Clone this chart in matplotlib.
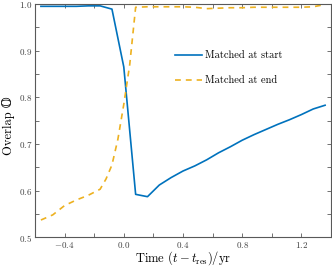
import matplotlib
matplotlib.use('Agg')
import matplotlib.pyplot as plt
import numpy as np
from matplotlib.ticker import MultipleLocator

plt.rcParams['font.family'] = 'serif'
plt.rcParams['font.serif'] = ['cmr10']
plt.rcParams['mathtext.fontset'] = 'cm'
plt.rcParams['axes.formatter.use_mathtext'] = True

# matched at start
t_start = [-0.56, -0.48, -0.40, -0.32, -0.24, -0.16, -0.08, 0.00, 0.08, 0.16,
           0.24, 0.32, 0.40, 0.48, 0.56, 0.64, 0.72, 0.80, 0.88, 0.96,
           1.04, 1.12, 1.20, 1.28, 1.36]
o_start = [0.995, 0.995, 0.995, 0.995, 0.996, 0.996, 0.989, 0.865, 0.592, 0.587,
           0.612, 0.628, 0.642, 0.653, 0.666, 0.681, 0.694, 0.708, 0.720, 0.731,
           0.742, 0.752, 0.763, 0.775, 0.783]

# matched at end
t_end = [-0.56, -0.48, -0.40, -0.32, -0.24, -0.16, -0.12, -0.08, -0.04, 0.00,
         0.04, 0.08, 0.16, 0.24, 0.32, 0.40, 0.48, 0.56, 0.64, 0.72,
         0.80, 0.88, 0.96, 1.04, 1.12, 1.20, 1.28, 1.36]
o_end = [0.537, 0.548, 0.568, 0.580, 0.590, 0.603, 0.625, 0.655, 0.710, 0.785,
         0.870, 0.993, 0.994, 0.994, 0.994, 0.994, 0.993, 0.990, 0.991, 0.992,
         0.992, 0.993, 0.993, 0.993, 0.993, 0.993, 0.994, 0.999]

fig = plt.figure(figsize=(3.32, 2.66), dpi=100)
ax = fig.add_axes([0.1054, 0.108, 0.8916, 0.877])

ax.plot(t_start, o_start, color='#0072BD', lw=1.2, label='Matched at start')
ax.plot(t_end, o_end, color='#EDB120', lw=1.2, ls=(0, (3.5, 3)), label='Matched at end')

ax.set_xlim(-0.6, 1.4)
ax.set_ylim(0.5, 1.0)
ax.xaxis.set_major_locator(MultipleLocator(0.4))
ax.xaxis.set_minor_locator(MultipleLocator(0.2))
ax.yaxis.set_major_locator(MultipleLocator(0.1))
ax.yaxis.set_minor_locator(MultipleLocator(0.05))
ax.tick_params(which='both', direction='in', top=True, right=True,
               labelsize=6.5, color='0.35', labelcolor='0.25', pad=2)
ax.tick_params(which='both', length=3, width=0.6)
for s in ax.spines.values():
    s.set_color('0.35')
    s.set_linewidth(0.8)

ax.set_xlabel(r'Time $(t - t_{\rm res})/{\rm yr}$', fontsize=9, va='center')
ax.xaxis.set_label_coords(0.5, -0.088)
ax.set_ylabel('Overlap \U0001D546', fontsize=9, va='center',
              family=['cmr10', 'DejaVu Serif', 'DejaVu Sans'])
ax.yaxis.set_label_coords(-0.088, 0.48)

ax.legend(loc='center left', bbox_to_anchor=(0.44, 0.725), frameon=False,
          fontsize=7.5, handlelength=2.6, labelspacing=1.5, handletextpad=0.3)

plt.savefig('out.png', dpi=100)
